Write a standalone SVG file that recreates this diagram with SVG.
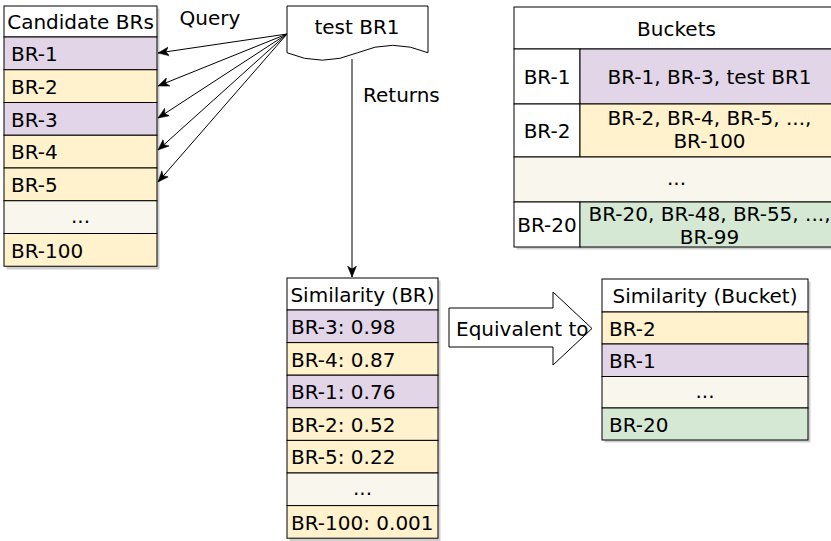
<svg xmlns="http://www.w3.org/2000/svg" width="831" height="541" viewBox="0 0 831 541">
<style>
  text { font-family: "DejaVu Sans", Verdana, "Liberation Sans", sans-serif; font-size: 20px; fill: #000; }
  .c { text-anchor: middle; }
  .cell { stroke: #000; stroke-width: 1; }
  .w { fill: #ffffff; }
  .p { fill: #e1d5e7; }
  .y { fill: #fff2cc; }
  .g { fill: #d5e8d4; }
  .n { fill: #f9f7ed; }
  .sh { fill: #cfcfcf; }
  .edge { fill: none; stroke: #000; stroke-width: 1; }
</style>
<defs>
  <marker id="arr" markerUnits="userSpaceOnUse" markerWidth="12" markerHeight="12" viewBox="0 0 12 12" refX="11" refY="6" orient="auto">
    <path d="M0,1.5 L11,6 L0,10.5 L3,6 Z" fill="#000" stroke="#000" stroke-width="0.5"/>
  </marker>
</defs>
<rect width="831" height="541" fill="#ffffff"/>

<g id="candidate-brs">
  <rect class="sh" x="6.5" y="8.5" width="153" height="261"/>
  <rect class="cell w" x="4" y="6" width="153" height="31"/>
  <text class="c" x="80.5" y="28.5">Candidate BRs</text>
  <rect class="cell p" x="4" y="37" width="153" height="32.75"/>
  <text x="11" y="61">BR-1</text>
  <rect class="cell y" x="4" y="69.75" width="153" height="32.75"/>
  <text x="11" y="93.7">BR-2</text>
  <rect class="cell p" x="4" y="102.5" width="153" height="32.75"/>
  <text x="11" y="126.5">BR-3</text>
  <rect class="cell y" x="4" y="135.25" width="153" height="32.75"/>
  <text x="11" y="159.2">BR-4</text>
  <rect class="cell y" x="4" y="168" width="153" height="32.75"/>
  <text x="11" y="192">BR-5</text>
  <rect class="cell n" x="4" y="200.75" width="153" height="32.75"/>
  <text class="c" x="80.5" y="222.5">...</text>
  <rect class="cell y" x="4" y="233.5" width="153" height="32.75"/>
  <text x="11" y="257.5">BR-100</text>
</g>

<g id="test-br1">
  <path class="cell w" d="M287,6 H428 V52.75 Q392.75,37.9 357.5,52.75 Q322.25,67.6 287,52.75 Z"/>
  <text class="c" x="357" y="34">test BR1</text>
</g>

<g id="buckets">
  <rect class="sh" x="516.5" y="9.5" width="325" height="240"/>
  <rect class="cell w" x="514" y="7" width="325" height="42"/>
  <text class="c" x="676.5" y="35.5">Buckets</text>
  <rect class="cell w" x="514" y="49" width="66" height="55"/>
  <text class="c" x="547" y="83.5">BR-1</text>
  <rect class="cell p" x="580" y="49" width="259" height="55"/>
  <text class="c" x="709.5" y="83.5">BR-1, BR-3, test BR1</text>
  <rect class="cell w" x="514" y="104" width="66" height="53"/>
  <text class="c" x="547" y="137.5">BR-2</text>
  <rect class="cell y" x="580" y="104" width="259" height="53"/>
  <text class="c" x="709.5" y="124.5">BR-2, BR-4, BR-5, ...,</text>
  <text class="c" x="709.5" y="147.5">BR-100</text>
  <rect class="cell n" x="514" y="157" width="325" height="45"/>
  <text class="c" x="676.5" y="184.5">...</text>
  <rect class="cell w" x="514" y="202" width="66" height="45"/>
  <text class="c" x="547" y="231.5">BR-20</text>
  <rect class="cell g" x="580" y="202" width="259" height="45"/>
  <text class="c" x="709.5" y="220.5">BR-20, BR-48, BR-55, ...,</text>
  <text class="c" x="709.5" y="243.5">BR-99</text>
</g>

<g id="similarity-br">
  <rect class="sh" x="289.5" y="280.5" width="151" height="261"/>
  <rect class="cell w" x="287" y="278" width="151" height="32"/>
  <text class="c" x="362.5" y="301.5">Similarity (BR)</text>
  <rect class="cell p" x="287" y="310" width="151" height="32.6"/>
  <text x="291" y="333.5">BR-3: 0.98</text>
  <rect class="cell y" x="287" y="342.6" width="151" height="32.6"/>
  <text x="291" y="366.5">BR-4: 0.87</text>
  <rect class="cell p" x="287" y="375.2" width="151" height="32.6"/>
  <text x="291" y="399">BR-1: 0.76</text>
  <rect class="cell y" x="287" y="407.8" width="151" height="32.6"/>
  <text x="291" y="431.5">BR-2: 0.52</text>
  <rect class="cell y" x="287" y="440.4" width="151" height="32.6"/>
  <text x="291" y="464.2">BR-5: 0.22</text>
  <rect class="cell n" x="287" y="473" width="151" height="32.6"/>
  <text class="c" x="362.5" y="495">...</text>
  <rect class="cell y" x="287" y="505.6" width="151" height="32.6"/>
  <text x="291" y="529.5">BR-100: 0.001</text>
</g>

<g id="equivalent-to">
  <path class="cell w" d="M449,308 H553 V292 L592,328.5 L553,365 V347 H449 Z"/>
  <text x="456" y="335.5">Equivalent to</text>
</g>

<g id="similarity-bucket">
  <rect class="sh" x="604.5" y="281.5" width="206" height="161"/>
  <rect class="cell w" x="602" y="279" width="206" height="33"/>
  <text class="c" x="705" y="302.5">Similarity (Bucket)</text>
  <rect class="cell y" x="602" y="312" width="206" height="32"/>
  <text x="609" y="335.5">BR-2</text>
  <rect class="cell p" x="602" y="344" width="206" height="32.5"/>
  <text x="609" y="367.5">BR-1</text>
  <rect class="cell n" x="602" y="376.5" width="206" height="31.5"/>
  <text class="c" x="705" y="397.5">...</text>
  <rect class="cell g" x="602" y="408" width="206" height="32"/>
  <text x="609" y="431.5">BR-20</text>
</g>

<g id="connectors">
  <path class="edge" d="M287,34 L158,53" marker-end="url(#arr)"/>
  <path class="edge" d="M287,34 L158,86" marker-end="url(#arr)"/>
  <path class="edge" d="M287,34 L158,118" marker-end="url(#arr)"/>
  <path class="edge" d="M287,34 L158,150" marker-end="url(#arr)"/>
  <path class="edge" d="M287,34 L158,182" marker-end="url(#arr)"/>
  <path class="edge" d="M352,59 V277" marker-end="url(#arr)"/>
  <text class="c" x="210" y="24.5">Query</text>
  <text x="363" y="101.5">Returns</text>
</g>
</svg>
